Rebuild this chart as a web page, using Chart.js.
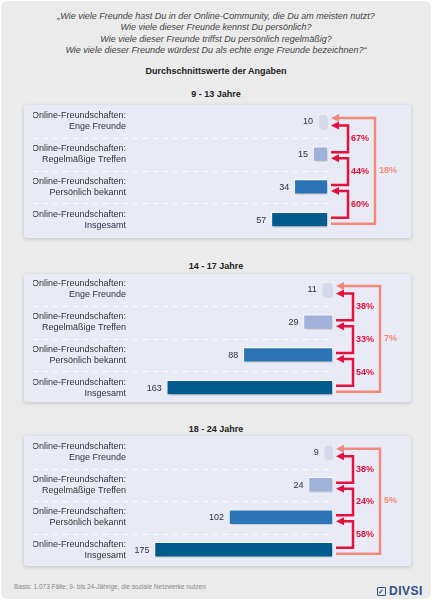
<!DOCTYPE html>
<html lang="de">
<head>
<meta charset="utf-8">
<script src="https://cdn.jsdelivr.net/npm/chart.js@4.4.1/dist/chart.umd.min.js"></script>
<style>
html, body {margin: 0; padding: 0; background: #fff;}
body {width: 432px; height: 600px; position: relative; overflow: hidden; font-family: "Liberation Sans", Arial, sans-serif;}
#karte {position: absolute; left: 1px; top: 1px; width: 430px; height: 598px; background: #ebebeb; border-radius: 7px;}
.frage {position: absolute; left: 0; width: 432px; top: 11px; text-align: center; font-style: italic; font-size: 9px; line-height: 11.4px; color: #444;}
.titel {position: absolute; left: 0; width: 432px; text-align: center; font-weight: bold; font-size: 9px; line-height: 11px; color: #222;}
.panel {position: absolute; left: 24px; width: 387px; background: #e8ebf6; border-radius: 3px; box-shadow: 0 1px 4px rgba(0,0,0,0.18);}
.wrap {position: absolute; left: 24px; width: 387px;}
.basis {position: absolute; left: 14px; top: 583px; font-size: 6.5px; color: #888;}
.logo {position: absolute; left: 377px; top: 584px; font-size: 12px; font-weight: bold; color: #2c4f86; letter-spacing: 0.5px;}
.logo span {display: inline-block; width: 7px; height: 7px; border: 1.5px solid #2c4f86; border-radius: 1px; font-size: 7px; line-height: 7px; text-align: center; vertical-align: 1px; margin-right: 3px;}
</style>
</head>
<body>
<div id="karte"></div>
<div class="frage">„Wie viele Freunde hast Du in der Online-Community, die Du am meisten nutzt?<br>Wie viele dieser Freunde kennst Du persönlich?<br>Wie viele dieser Freunde triffst Du persönlich regelmäßig?<br>Wie viele dieser Freunde würdest Du als echte enge Freunde bezeichnen?“</div>
<div class="titel" style="top:65.5px">Durchschnittswerte der Angaben</div>

<div class="titel" style="top:88.5px" id="titel0"></div>
<div class="panel" style="top:105px;height:133px"></div>
<div class="wrap" style="top:105px;height:131px"><canvas id="chart0"></canvas></div>

<div class="titel" style="top:260.5px" id="titel1"></div>
<div class="panel" style="top:274px;height:128px"></div>
<div class="wrap" style="top:273px;height:131px"><canvas id="chart1"></canvas></div>

<div class="titel" style="top:423.5px" id="titel2"></div>
<div class="panel" style="top:436px;height:130px"></div>
<div class="wrap" style="top:436px;height:130px"><canvas id="chart2"></canvas></div>

<div class="basis">Basis: 1.073 Fälle; 9- bis 24-Jährige, die soziale Netzwerke nutzen</div>
<div class="logo"><span>✓</span>DIVSI</div>

<script>
// Daten
const kategorien = [
    ["Online-Freundschaften:", "Enge Freunde"],
    ["Online-Freundschaften:", "Regelmäßige Treffen"],
    ["Online-Freundschaften:", "Persönlich bekannt"],
    ["Online-Freundschaften:", "Insgesamt"]
];
const altersgruppen = ["9 - 13 Jahre", "14 - 17 Jahre", "18 - 24 Jahre"];

const werte913 = [10, 15, 34, 57];
const werte1417 = [11, 29, 88, 163];
const werte1824 = [9, 24, 102, 175];

// Anteil der jeweils nächsten Stufe (in %)
const schritte913 = [67, 44, 60];
const schritte1417 = [38, 33, 54];
const schritte1824 = [38, 24, 58];

// Enge Freunde / Insgesamt (in %)
const gesamtAnteil = [18, 7, 5];

const balkenFarben = ["#d5d9ec", "#a0b2da", "#2b74b6", "#005a8e"];
const schrift = "'Liberation Sans', Arial, sans-serif";
const rot = "#e3123c";
const lachs = "#f3897b";

function pfeil(ctx, punkte, farbe) {
    ctx.strokeStyle = farbe;
    ctx.fillStyle = farbe;
    ctx.lineWidth = 2.5;
    ctx.lineJoin = "miter";
    ctx.beginPath();
    ctx.moveTo(punkte[0][0], punkte[0][1]);
    for (let i = 1; i < punkte.length; i++) {ctx.lineTo(punkte[i][0], punkte[i][1]);}
    ctx.stroke();
    // Pfeilspitze nach links
    const [xs, ys] = punkte[punkte.length - 1];
    ctx.beginPath();
    ctx.moveTo(xs - 7, ys);
    ctx.lineTo(xs + 1, ys - 4);
    ctx.lineTo(xs + 1, ys + 4);
    ctx.closePath();
    ctx.fill();
}

const pfeilPlugin = {
    id: "pfeile",
    beforeDatasetsDraw(chart) {
        const {ctx, scales: {y}, chartArea} = chart;
        // gestrichelte Trennlinien
        ctx.save();
        ctx.strokeStyle = "#ffffff";
        ctx.lineWidth = 1;
        ctx.setLineDash([5, 5]);
        for (let i = 0; i < kategorien.length - 1; i++) {
            const ym = Math.round((y.getPixelForValue(i) + y.getPixelForValue(i + 1)) / 2) + 0.5;
            ctx.beginPath();
            ctx.moveTo(9, ym);
            ctx.lineTo(chartArea.right, ym);
            ctx.stroke();
        }
        ctx.restore();
        // Schatten für Balken
        ctx.save();
        ctx.shadowColor = "rgba(0,0,0,0.25)";
        ctx.shadowBlur = 4;
        ctx.shadowOffsetX = 1;
        ctx.shadowOffsetY = 2;
    },
    afterDatasetsDraw(chart, args, opts) {
        const {ctx, scales: {x, y}} = chart;
        ctx.restore();
        const werte = chart.data.datasets[0].data;
        const xr = x.getPixelForValue(0);

        ctx.save();
        // Werte links vom Balken
        ctx.font = "9px " + schrift;
        ctx.fillStyle = "#333";
        ctx.textAlign = "right";
        ctx.textBaseline = "middle";
        werte.forEach((v, i) => {
            ctx.fillText(String(v), x.getPixelForValue(v) - 5, y.getPixelForValue(i) + 0.5);
        });

        // rote Pfeile zwischen den Stufen
        const xv = xr + 20;
        opts.schritte.forEach((p, i) => {
            const yOben = y.getPixelForValue(i) + 4;
            const yUnten = y.getPixelForValue(i + 1) - 2;
            pfeil(ctx, [[xr + 3, yUnten], [xv, yUnten], [xv, yOben], [xr + 10, yOben]], rot);
            ctx.font = "bold 9px " + schrift;
            ctx.fillStyle = rot;
            ctx.textAlign = "left";
            ctx.fillText(p + "%", xv + 3, (y.getPixelForValue(i) + y.getPixelForValue(i + 1)) / 2 + 1);
        });

        // Gesamtpfeil
        const xg = xr + 47;
        const yStart = y.getPixelForValue(werte.length - 1) + 4;
        const yZiel = y.getPixelForValue(0) - 3.5;
        pfeil(ctx, [[xr + 3, yStart], [xg, yStart], [xg, yZiel], [xr + 10, yZiel]], lachs);
        ctx.font = "bold 9px " + schrift;
        ctx.fillStyle = lachs;
        ctx.textAlign = "left";
        ctx.fillText(opts.gesamt + "%", xg + 4, (y.getPixelForValue(0) + y.getPixelForValue(werte.length - 1)) / 2);
        ctx.restore();
    }
};

function baueDiagramm(nr, werte, schritte, rechts) {
    document.getElementById("titel" + nr).textContent = altersgruppen[nr];
    new Chart(document.getElementById("chart" + nr), {
        type: "bar",
        data: {
            labels: kategorien,
            datasets: [{
                data: werte,
                backgroundColor: balkenFarben,
                borderColor: "#ffffff",
                borderWidth: 1.2,
                borderSkipped: false,
                barThickness: 15
            }]
        },
        options: {
            indexAxis: "y",
            responsive: true,
            maintainAspectRatio: false,
            animation: false,
            layout: {padding: {left: 9, right: rechts, top: 0, bottom: 0}},
            plugins: {
                legend: {display: false},
                tooltip: {enabled: false},
                pfeile: {schritte: schritte, gesamt: gesamtAnteil[nr]}
            },
            scales: {
                x: {display: false, reverse: true, min: 0, max: 195},
                y: {
                    grid: {display: false, drawTicks: false},
                    border: {display: false},
                    ticks: {color: "#333", font: {family: schrift, size: 9}, padding: 8},
                    afterFit: s => {s.paddingTop = 0; s.paddingBottom = 0; s.width = 101;}
                }
            }
        },
        plugins: [pfeilPlugin]
    });
}

baueDiagramm(0, werte913, schritte913, 83);
baueDiagramm(1, werte1417, schritte1417, 78);
baueDiagramm(2, werte1824, schritte1824, 78);
</script>
</body>
</html>
